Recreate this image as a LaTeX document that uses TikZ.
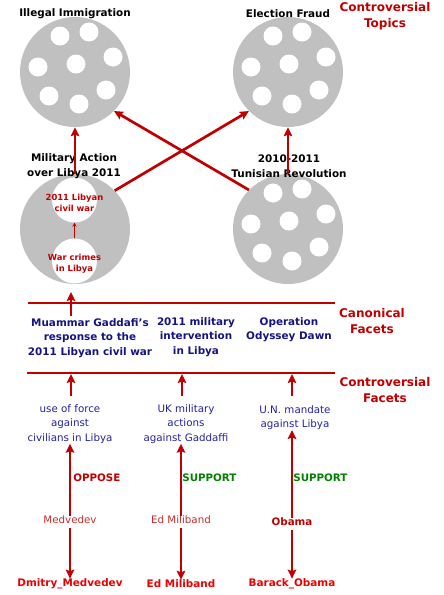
\documentclass[tikz,border=0pt]{standalone}
\usepackage{fontspec}
\setmainfont{DejaVu Sans}
\usetikzlibrary{arrows.meta}
\definecolor{dred}{RGB}{192,0,0}
\definecolor{bred}{RGB}{235,0,0}
\definecolor{mred}{RGB}{195,45,45}
\definecolor{cgray}{RGB}{192,192,192}
\definecolor{cnavy}{RGB}{20,20,130}
\definecolor{cblue}{RGB}{35,35,160}
\definecolor{cgreen}{RGB}{0,130,0}
\tikzset{
  topic/.style={circle, fill=cgray, minimum size=110pt, inner sep=0pt},
  hole/.style={circle, fill=white, minimum size=19pt, inner sep=0pt},
  inner/.style={circle, fill=white, minimum size=45pt, inner sep=0pt},
  ttl/.style={font=\fontsize{10.4}{14.5}\selectfont\bfseries, align=center, inner sep=0pt, text=black},
  side/.style={font=\fontsize{12}{16.5}\selectfont\bfseries, align=center, inner sep=0pt, text=dred},
  canon/.style={font=\fontsize{10.4}{14.5}\selectfont\bfseries, align=center, inner sep=0pt, text=cnavy},
  cfacet/.style={font=\fontsize{10.3}{14.5}\selectfont, align=center, inner sep=0pt, text=cblue},
  small/.style={font=\fontsize{8.4}{11}\selectfont\bfseries, align=center, inner sep=0pt, text=dred},
  arr/.style={draw=dred, line width=2.7pt, -{Stealth[length=9pt,width=8.5pt,inset=1.5pt]}},
  thinarr/.style={draw=dred, line width=1pt, -{Stealth[length=4pt,width=4pt]}},
  hline/.style={draw=dred, line width=2.7pt},
  stance/.style={font=\fontsize{10.3}{12}\selectfont\bfseries, inner sep=0pt, anchor=west},
  person/.style={font=\fontsize{10.3}{12}\selectfont, inner sep=0pt, text=mred},
  entity/.style={font=\fontsize{10.4}{12}\selectfont\bfseries, inner sep=0pt, text=bred},
}
\begin{document}
\begin{tikzpicture}[x=1pt,y=-1pt]
\useasboundingbox (0,0) rectangle (444,595);
% topic circles
\node[topic] (ii) at (75,72) {};
\node[topic] (ef) at (288,72) {};
\node[topic] (ma) at (75,229) {};
\node[topic] (tr) at (288,229) {};
\foreach \c in {ii,ef,tr}{
  \foreach \dx/\dy in {-15/-36,14/-40,38/-15,-37/-5,1/-8,31/18,-26/24,4/32}{
    \node[hole] at ([shift={(\dx pt,-\dy pt)}]\c) {};
  }
}
% inner circles of Military Action
\node[inner] (civc) at (74.5,200) {};
\node[inner] (wcc) at (74.5,261) {};
\node[small] (civ) at (74.5,202.5) {2011 Libyan\\civil war};
\node[small] (wc) at (74.5,264) {War crimes\\in Libya};
\draw[thinarr] (wcc.north) -- (civc.south);
% titles
\node[ttl] (tii) at (75,14) {Illegal Immigration};
\node[ttl] (tef) at (288,14) {Election Fraud};
\node[ttl] (tma) at (74,166) {Military Action\\over Libya 2011};
\node[ttl] (ttr) at (289,166) {2010-2011\\Tunisian Revolution};
% side labels
\node[side] (sct) at (385,16) {Controversial\\Topics};
\node[side] (scf) at (372,321) {Canonical\\Facets};
\node[side] (sfc) at (385,390) {Controversial\\Facets};
% topic arrows
\draw[arr] (ma.north) -- (ii.south);
\draw[arr] (ma.44) -- (ef.225);
\draw[arr] (tr.135) -- (ii.315);
\draw[arr] (tr.north) -- (ef.south);
% horizontal rules
\coordinate (r1a) at (28,303);
\coordinate (r1b) at (335,303);
\coordinate (r2a) at (27,373);
\coordinate (r2b) at (335,373);
\draw[hline] (r1a) -- (r1b);
\draw[hline] (r2a) -- (r2b);
% canonical facets
\node[canon] (cf1) at (90,338) {Muammar Gaddafi's\\response to the\\2011 Libyan civil war};
\node[canon] (cf2) at (196,337) {2011 military\\intervention\\in Libya};
\node[canon] (cf3) at (289,329.5) {Operation\\Odyssey Dawn};
\coordinate (m1) at (71,316);
\coordinate (m2) at (71,292);
\draw[arr] (m1) -- (m2);
% controversial facets
\node[cfacet] (f1) at (70,424) {use of force\\against\\civilians in Libya};
\node[cfacet] (f2) at (186,424) {UK military\\actions\\against Gaddaffi};
\node[cfacet] (f3) at (295,417.5) {U.N. mandate\\against Libya};
\coordinate (u1) at (71,396);
\coordinate (v1) at (71,374);
\coordinate (u2) at (182,396);
\coordinate (v2) at (182,374);
\coordinate (u3) at (292,396);
\coordinate (v3) at (292,374);
\draw[arr] (u1) -- (v1);
\draw[arr] (u2) -- (v2);
\draw[arr] (u3) -- (v3);
% persons
\node[person] (p1) at (70,520) {Medvedev};
\node[person] (p2) at (181,520) {Ed Miliband};
\node[person, font=\fontsize{10.3}{12}\selectfont\bfseries, text=dred] (p3) at (292,522) {Obama};
\node[entity] (e1) at (70,584) {Dmitry\_Medvedev};
\node[entity] (e2) at (181,584) {Ed Miliband};
\node[entity] (e3) at (292,584) {Barack\_Obama};
\draw[arr] (p1.north) -- node[stance, text=dred, pos=0.53, xshift=2pt] {OPPOSE} (p1.north |- f1.south);
\draw[arr] (p2.north) -- node[stance, text=cgreen, pos=0.53, xshift=0pt] {SUPPORT} (p2.north |- f1.south);
\draw[arr] (p3.north) -- node[stance, text=cgreen, pos=0.455, xshift=0pt] {SUPPORT} (p3.north |- f3.south);
\draw[arr, shorten <=4pt] (p1.south) -- (e1.north);
\draw[arr, shorten <=4pt] (p2.south) -- (e2.north);
\draw[arr, shorten <=4pt] (p3.south) -- (e3.north);
\end{tikzpicture}
\end{document}
